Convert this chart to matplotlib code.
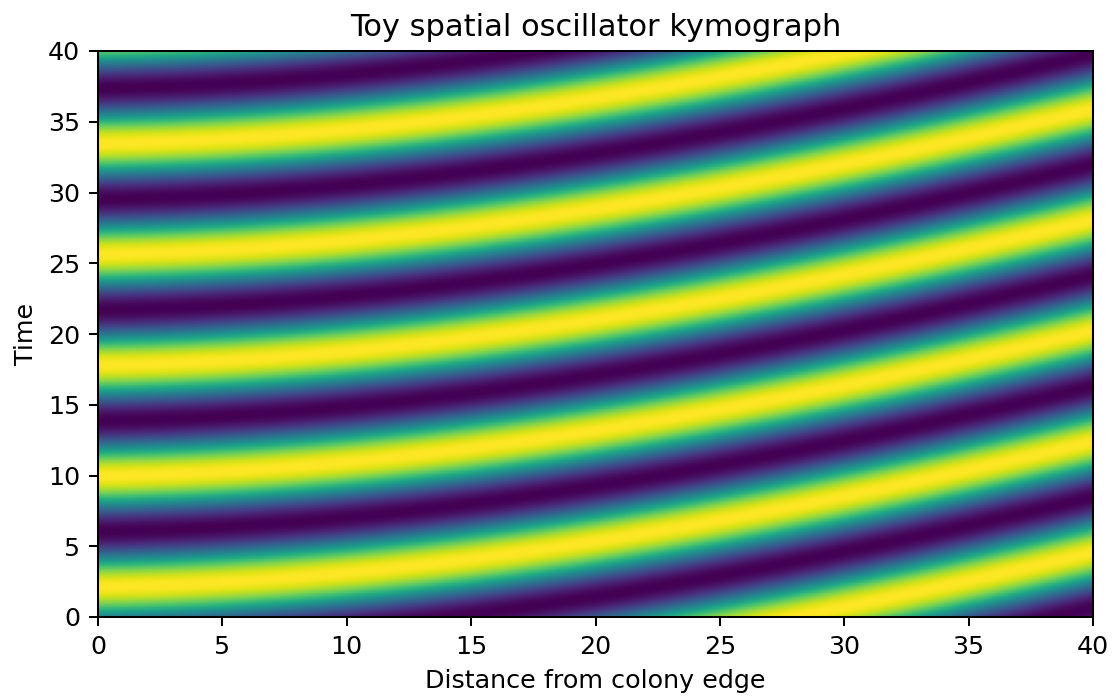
import numpy as np
import matplotlib.pyplot as plt

# crest arrival time of one wave front at each distance from the colony edge
front_x = [0, 5, 10, 15, 20, 25, 30, 35, 40]
front_t = [2.15, 2.3, 3.0, 4.15, 5.4, 6.85, 8.4, 10.3, 12.4]
period = 7.85

x_max, t_max = 40, 40

xs = np.linspace(0, x_max, 400)
ts = np.linspace(0, t_max, 400)
# smooth the front through the read points
coef = np.polyfit(front_x, front_t, 3)
arrival = np.polyval(coef, xs)
field = np.cos(2 * np.pi * (ts[:, None] - arrival[None, :]) / period)

DPI = 183
fig = plt.figure(figsize=(1115 / DPI, 696 / DPI), dpi=DPI)
ax = fig.add_axes([98 / 1115, 1 - 617 / 696, 995 / 1115, 566 / 696])
ax.imshow(field, origin="lower", extent=[0, x_max, 0, t_max], aspect="auto", cmap="viridis")
ax.set_xlabel("Distance from colony edge")
ax.set_ylabel("Time")
ax.set_title("Toy spatial oscillator kymograph")

fig.savefig("out.png", dpi=DPI)
